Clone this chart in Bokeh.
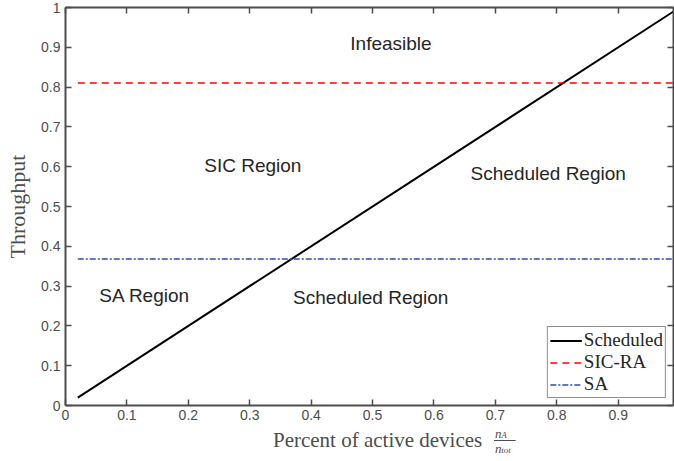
from bokeh.plotting import figure
from bokeh.layouts import column
from bokeh.models import (Range1d, FixedTicker, LinearAxis, Legend,
                          LegendItem, ColumnDataSource)
from bokeh.embed import file_html
from bokeh.resources import INLINE
from bokeh.core.properties import value

# ---- data ----
x_sched = [0.02, 0.99]
y_sched = [0.02, 0.99]
x_flat = [0.02, 0.99]
y_sicra = [0.81, 0.81]
y_sa = [0.368, 0.368]

xticks = [0, 0.1, 0.2, 0.3, 0.4, 0.5, 0.6, 0.7, 0.8, 0.9]
xtick_labels = ["0", "0.1", "0.2", "0.3", "0.4", "0.5", "0.6", "0.7", "0.8", "0.9"]
yticks = [0, 0.1, 0.2, 0.3, 0.4, 0.5, 0.6, 0.7, 0.8, 0.9, 1]
ytick_labels = ["0", "0.1", "0.2", "0.3", "0.4", "0.5", "0.6", "0.7", "0.8", "0.9", "1"]

region_text = ["Infeasible", "SIC Region", "Scheduled Region", "SA Region", "Scheduled Region"]
region_x = [0.53, 0.305, 0.786, 0.129, 0.497]
region_y = [0.91, 0.603, 0.583, 0.276, 0.271]

xlabel_main = "Percent of active devices"
frac_num = ["n", "A"]
frac_den = ["n", "tot"]

AX = "#4d4d4d"
TXT = "#262626"

p = figure(width=674, height=425, x_range=Range1d(0, 0.99), y_range=Range1d(0, 1),
           output_backend="svg", toolbar_location=None,
           min_border_left=65, min_border_right=1, min_border_top=7, min_border_bottom=20,
           background_fill_color="white", border_fill_color="white")
p.outline_line_color = None
p.grid.visible = False

def style_axis(ax, ticks, labels=None, show_labels=True):
    ax.ticker = FixedTicker(ticks=ticks)
    ax.axis_line_color = AX
    ax.axis_line_width = 2
    ax.major_tick_line_color = AX
    ax.major_tick_line_width = 1.5
    ax.major_tick_in = 6
    ax.major_tick_out = 0
    ax.minor_tick_line_color = None
    if show_labels:
        ax.major_label_overrides = dict(zip(ticks, labels))
        ax.major_label_text_font = "Liberation Sans"
        ax.major_label_text_font_size = "14px"
        ax.major_label_text_color = AX
    else:
        ax.major_label_text_font_size = "0px"
        ax.major_label_text_color = None
        ax.major_label_standoff = 0

style_axis(p.xaxis[0], xticks, xtick_labels)
p.xaxis[0].major_label_standoff = 4
style_axis(p.yaxis[0], yticks, ytick_labels)
p.yaxis[0].major_label_standoff = 5
p.yaxis[0].axis_label = "Throughput"
p.yaxis[0].axis_label_text_font = "Liberation Serif"
p.yaxis[0].axis_label_text_font_style = "normal"
p.yaxis[0].axis_label_text_font_size = "22px"
p.yaxis[0].axis_label_text_color = AX
p.yaxis[0].axis_label_standoff = 8

top = LinearAxis()
style_axis(top, xticks, show_labels=False)
p.add_layout(top, "above")
right = LinearAxis()
style_axis(right, yticks, show_labels=False)
p.add_layout(right, "right")

r1 = p.line(x_sched, y_sched, line_color="black", line_width=2)
r2 = p.line(x_flat, y_sicra, line_color="#ff0000", line_width=1.5, line_dash="7 5")
r3 = p.line(x_flat, y_sa, line_color="#2a4db5", line_width=1.5, line_dash="6 2 2 2")

src = ColumnDataSource(dict(x=region_x, y=region_y, t=region_text))
p.text("x", "y", text="t", source=src, text_align="center", text_baseline="middle",
       text_font=value("Liberation Sans"), text_font_size="19px", text_color=TXT)

legend = Legend(items=[LegendItem(label="Scheduled", renderers=[r1]),
                       LegendItem(label="SIC-RA", renderers=[r2]),
                       LegendItem(label="SA", renderers=[r3])],
                location="bottom_right")
legend.margin = 7
legend.padding = 2
legend.spacing = 0
legend.label_height = 21
legend.glyph_height = 21
legend.glyph_width = 32
legend.label_standoff = 2
legend.label_text_font = "Liberation Serif"
legend.label_text_font_size = "19px"
legend.label_text_color = TXT
legend.border_line_color = "#222222"
legend.border_line_width = 1
legend.background_fill_color = "white"
legend.background_fill_alpha = 1
p.add_layout(legend, "center")

# ---- x axis title strip (pixel coordinates, y downward) ----
p2 = figure(width=674, height=36, x_range=Range1d(0, 674), y_range=Range1d(36, 0),
            output_backend="svg", toolbar_location=None,
            x_axis_location=None, y_axis_location=None,
            min_border=0, min_border_left=0, min_border_right=0,
            min_border_top=0, min_border_bottom=0,
            background_fill_color="white", border_fill_color="white")
p2.outline_line_color = None
p2.grid.visible = False

serif = value("Liberation Serif")
p2.text(x=[462], y=[14], text=[xlabel_main], text_align="right", text_baseline="middle",
        text_font=serif, text_font_size="21px", text_color=AX)
# fraction n_A / n_tot
p2.text(x=[476], y=[7.5], text=[frac_num[0]], text_align="left", text_baseline="middle",
        text_font=serif, text_font_style="italic", text_font_size="13px", text_color=AX)
p2.text(x=[483], y=[9.5], text=[frac_num[1]], text_align="left", text_baseline="middle",
        text_font=serif, text_font_style="italic", text_font_size="9px", text_color=AX)
p2.line(x=[475, 499], y=[15, 15], line_color=AX, line_width=1)
p2.text(x=[476], y=[22.5], text=[frac_den[0]], text_align="left", text_baseline="middle",
        text_font=serif, text_font_style="italic", text_font_size="13px", text_color=AX)
p2.text(x=[483], y=[24.5], text=[frac_den[1]], text_align="left", text_baseline="middle",
        text_font=serif, text_font_style="italic", text_font_size="9px", text_color=AX)

layout = column(p, p2, spacing=0)
open("out.html", "w").write(file_html(layout, INLINE))
